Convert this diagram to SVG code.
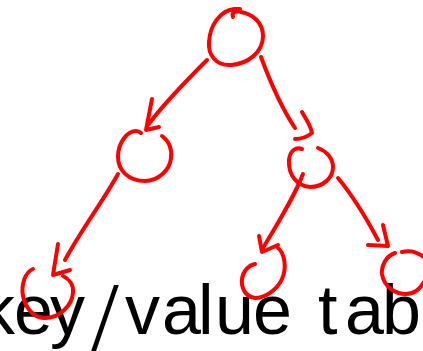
<svg xmlns="http://www.w3.org/2000/svg" width="423" height="351" viewBox="0 0 423 351">
<style>
.ink{fill:none;stroke:#ff0000;stroke-width:4;stroke-linecap:round;stroke-linejoin:round}
.lbl{font-family:"Liberation Sans",Arial,sans-serif;font-size:70px;fill:#000000}
.sl{font-family:"Liberation Serif","Times New Roman",serif;font-size:100px}
</style>
<rect width="423" height="351" fill="#ffffff"/>
<text class="lbl" y="334"><tspan x="-20 14 50">key</tspan><tspan class="sl" x="91" dy="16">/</tspan><tspan x="125 162 198 215 253 290 318 345 382" dy="-16">value tab</tspan></text>
<g id="root"><path class="ink" d="M233,17 C231,12 237,10 241,12 C252,14 263,22 263,36 C263,52 248,64 231,65 C216,66 208,55 209,42 C210,25 220,11 234,9 L240,9"/></g>
<g id="nodeL"><path class="ink" d="M162,136 C170,142 172,150 171,158 C170,170 158,181 145,181 C128,181 118,170 118,157 C118,143 127,131 136,131 C138,131 140,132 141,133"/></g>
<g id="nodeR"><path class="ink" d="M302,149 C296,147 290,150 289,160 C288,175 297,186 310,187 C323,187 333,178 333,167 C333,158 326,151 318,148"/></g>
<g id="nodeLL"><path class="ink" d="M33,269 C25,272 21,285 23,296 C26,310 35,318 45,318 C60,318 72,305 73,293 C74,285 69,279 63,276"/></g>
<g id="nodeRL"><path class="ink" d="M277,247 C285,253 287,268 282,279 C277,290 265,298 255,298 C245,297 241,287 242,279 C243,271 249,265 255,264"/></g>
<g id="nodeRR"><path class="ink" d="M395,253 C386,256 381,266 382,274 C384,287 395,294 406,294 C414,294 420,289 424,282 M402,252 C410,250 418,252 425,258"/></g>
<g id="connectors">
<path class="ink" d="M207,60 C188,79 165,102 148,125"/>
<path class="ink" d="M152,99 L146,130 L159,127"/>
<path class="ink" d="M261,57 C268,76 279,104 295,128"/>
<path class="ink" d="M302,112 C306,119 311,126 312,133 C307,137 300,139 295,139"/>
<path class="ink" d="M118,174 C105,198 80,232 65,260"/>
<path class="ink" d="M58,244 L53,275 L70,270"/>
<path class="ink" d="M303,174 C295,195 280,220 263,248"/>
<path class="ink" d="M259,236 L262,252 L278,245"/>
<path class="ink" d="M338,178 C348,190 362,210 378,240"/>
<path class="ink" d="M383,225 L388,246 L368,245"/>
</g>
</svg>
